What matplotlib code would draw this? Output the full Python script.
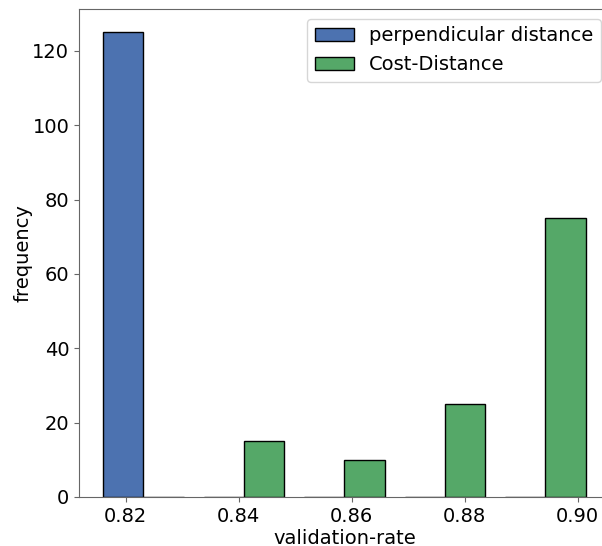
import numpy as np
from matplotlib import pyplot as plt

# values
labels = ['perpendicular distance', 'Cost-Distance']
perp_rates = [0.8195]
perp_counts = [125]
cost_rates = [0.8445, 0.8625, 0.8805, 0.8985]
cost_counts = [15, 10, 25, 75]
bin_range = (0.8142, 0.9032)
n_bins = 5


def main():
    """Histogram of validation rate for both distance measures"""
    perp = np.repeat(perp_rates, perp_counts)
    cost = np.repeat(cost_rates, cost_counts)

    fig = plt.figure(figsize=(6.02, 5.46), dpi=100)
    ax = fig.add_axes([79 / 602, 49 / 546, 532 / 602, 488 / 546])

    ax.hist([perp, cost], bins=n_bins, range=bin_range,
            color=['#4C72B0', '#55A868'], edgecolor='black',
            linewidth=1, label=labels)

    ax.set_xlim(0.8117, 0.9059)
    ax.set_xticks([0.82, 0.84, 0.86, 0.88, 0.90])
    ax.tick_params(labelsize=14, color='0.4')
    for s in ax.spines.values():
        s.set_color('0.4')

    ax.set_xlabel('validation-rate', fontsize=14, labelpad=2)
    ax.set_ylabel('frequency', fontsize=14, labelpad=0)
    ax.legend(loc='upper right', fontsize=14)

    fig.savefig('out.png', dpi=100)


if __name__ == "__main__":
    main()
